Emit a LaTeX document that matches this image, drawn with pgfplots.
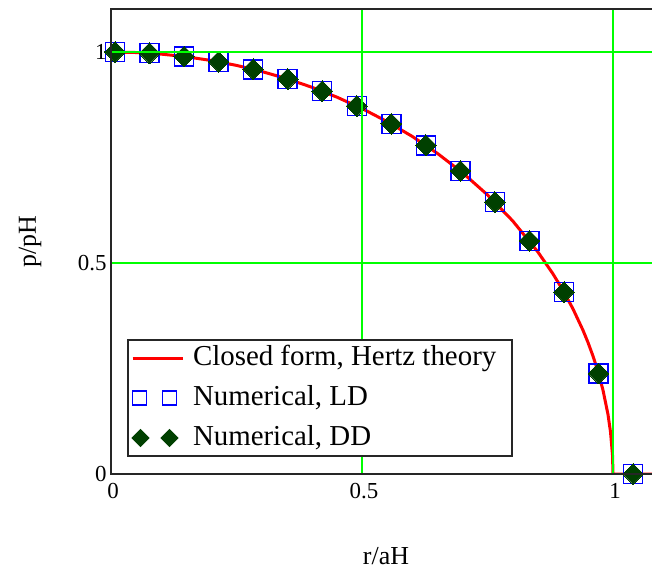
\documentclass[border=0pt]{standalone}
\usepackage{fontspec}
\setmainfont{Liberation Serif}
\usepackage{pgfplots}
\pgfplotsset{compat=1.18}
\definecolor{mcred}{RGB}{255,0,0}
\definecolor{mcgreen}{RGB}{0,255,0}
\definecolor{mcblue}{RGB}{0,0,255}
\definecolor{mcdark}{RGB}{0,64,0}
\begin{document}
\begin{tikzpicture}
\begin{axis}[
  at={(0,0)}, anchor=south west,
  scale only axis, width=550bp, height=464.5bp,
  xmin=0, xmax=1.0956, ymin=0, ymax=1.1007,
  xtick={0,0.5,1}, ytick={0,0.5,1},
  xticklabels={0,0.5,1}, yticklabels={0,0.5,1},
  major tick length=0pt,
  grid=major,
  grid style={mcgreen, line width=1.8bp},
  axis on top,
  axis line style={black!85, line width=2bp},
  clip mode=individual,
  tick label style={font=\fontsize{23}{27}\selectfont},
  /pgf/number format/assume math mode=true,
  xticklabel style={yshift=-6bp, xshift=2bp},
  yticklabel style={xshift=-1bp},
  xlabel={r/aH}, ylabel={p/pH},
  xlabel style={font=\fontsize{26}{30}\selectfont, at={(axis description cs:0.5,0)}, anchor=base, yshift=-90bp},
  ylabel style={font=\fontsize{26}{30}\selectfont, at={(axis description cs:0,0.5)}, anchor=center, yshift=81bp},
  legend cell align=left,
  legend style={at={(axis cs:0.0319,0.3199)}, anchor=north west,
    draw=black!85, line width=2bp, font=\fontsize{29}{33}\selectfont,
    inner xsep=3bp, inner ysep=3bp, row sep=10bp, column sep=7bp,
    nodes={inner sep=2bp, text height=20bp, text depth=6bp}},
]
\addplot[mcred, line width=3bp, legend image code/.code={\draw[mcred,line width=3bp] (0bp,0bp) -- (50bp,0bp);}] coordinates {
(0,1) (0.05,0.99875) (0.1,0.99499) (0.15,0.98869) (0.2,0.97980) (0.25,0.96825)
(0.3,0.95394) (0.35,0.93675) (0.4,0.91652) (0.45,0.89303) (0.5,0.86603)
(0.55,0.83516) (0.6,0.8) (0.65,0.75993) (0.7,0.71414) (0.75,0.66144)
(0.8,0.6) (0.85,0.52678) (0.88,0.47497) (0.9,0.43589) (0.92,0.39192)
(0.94,0.34117) (0.95,0.31225) (0.96,0.28) (0.97,0.24310) (0.98,0.19900)
(0.99,0.14107) (0.995,0.09987) (0.999,0.04471) (1.0,0) (1.1,0)
};
\addlegendentry{Closed form, Hertz theory\rule{11bp}{0pt}}
\addplot[only marks, mark=square, mark size=9.5bp, mark options={mcblue, line width=1.5bp},
  legend image code/.code={\draw[mcblue,line width=1.4bp] plot[only marks, mark=square, mark size=7bp] coordinates {(7bp,0bp) (37bp,0bp)};}] coordinates {
(0.008,1.000) (0.0768,0.99705) (0.1456,0.98934) (0.2144,0.97675) (0.2832,0.95906)
(0.352,0.93599) (0.4208,0.90715) (0.4896,0.87194) (0.5584,0.82958) (0.6272,0.77885)
(0.696,0.71803) (0.7648,0.64427) (0.8336,0.55242) (0.9024,0.43090) (0.9712,0.23829)
(1.04,0)
};
\addlegendentry{Numerical, LD}
\addplot[only marks, mark=square*, mark size=7.3bp, mark options={mcdark, fill=mcdark, rotate=45, line width=0pt},
  legend image code/.code={\draw[mcdark,fill=mcdark] plot[only marks, mark=square*, mark size=5.5bp, mark options={rotate=45}] coordinates {(8bp,0bp) (37bp,0bp)};}] coordinates {
(0.008,1.000) (0.0768,0.99705) (0.1456,0.98934) (0.2144,0.97675) (0.2832,0.95906)
(0.352,0.93599) (0.4208,0.90715) (0.4896,0.87194) (0.5584,0.82958) (0.6272,0.77885)
(0.696,0.71803) (0.7648,0.64427) (0.8336,0.55242) (0.9024,0.43090) (0.9712,0.23829)
(1.04,0)
};
\addlegendentry{Numerical, DD}
\end{axis}
\pgfresetboundingbox
\path[use as bounding box] (-111bp,-98bp) rectangle (541bp,474bp);
\end{tikzpicture}
\end{document}
